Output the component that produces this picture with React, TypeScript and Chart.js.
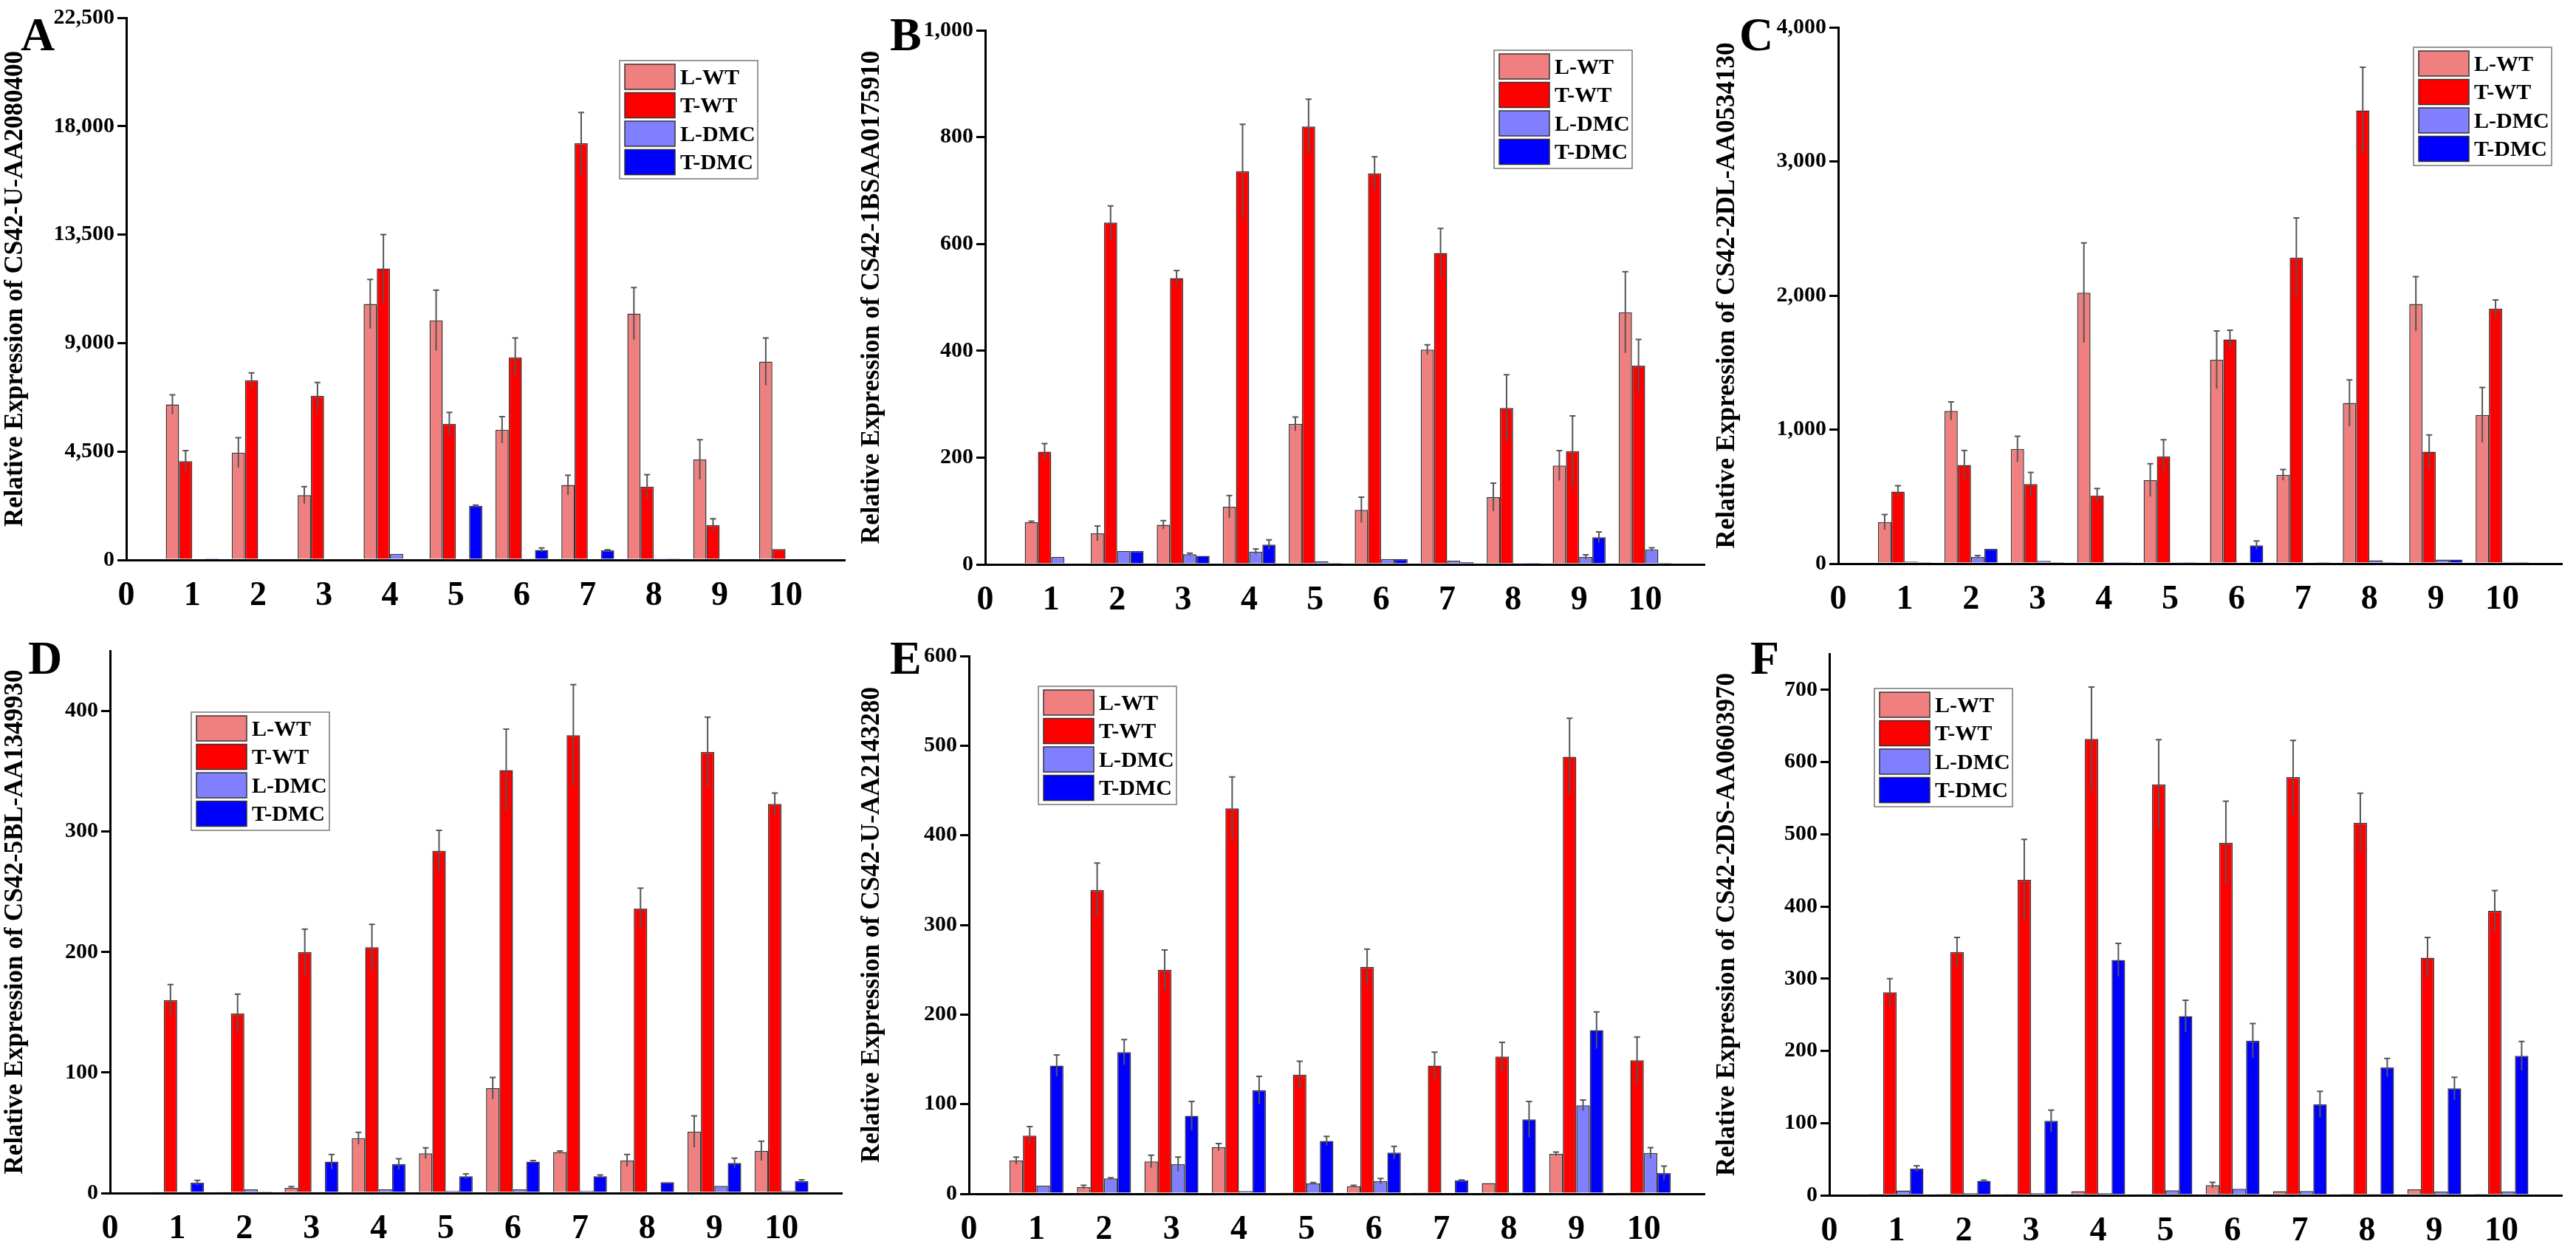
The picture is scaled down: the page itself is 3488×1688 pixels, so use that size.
import React, { useEffect, useRef } from "react";
import { Chart, registerables } from "chart.js";
Chart.register(...registerables);

const GROUPS = [1, 2, 3, 4, 5, 6, 7, 8, 9, 10];
const SERIES = ["L-WT", "T-WT", "L-DMC", "T-DMC"];
const COLORS = ["#F08080", "#FF0000", "#8080FF", "#0000FF"];

// Panel A
const A_LWT = [6450, 4455, 2690, 10620, 9940, 5400, 3110, 10220, 4170, 8230];
const A_LWT_E = [400, 615, 350, 1020, 1260, 550, 410, 1080, 820, 980];
const A_TWT = [4100, 7460, 6815, 12090, 5650, 8400, 17290, 3040, 1450, 450];
const A_TWT_E = [440, 300, 550, 1410, 470, 810, 1280, 500, 260, 0];
const A_LDMC = [0, 0, 0, 250, 0, 20, 0, 10, 0, 0];
const A_LDMC_E = [0, 0, 0, 0, 0, 0, 0, 0, 0, 0];
const A_TDMC = [20, 0, 0, 0, 2245, 415, 400, 10, 0, 0];
const A_TDMC_E = [0, 0, 0, 0, 30, 85, 20, 0, 0, 0];
// Panel B
const B_LWT = [79, 58, 74, 108, 263, 102, 402, 126, 185, 472];
const B_LWT_E = [2, 14, 8, 21, 13, 24, 9, 26, 28, 76];
const B_TWT = [211, 640, 536, 736, 820, 732, 583, 293, 212, 372];
const B_TWT_E = [15, 31, 14, 88, 51, 31, 46, 62, 66, 49];
const B_LDMC = [14, 25, 19, 24, 6, 10, 7, 1, 14, 28];
const B_LDMC_E = [0, 0, 2, 5, 0, 0, 0, 0, 4, 3];
const B_TDMC = [2, 25, 16, 37, 3, 10, 4, 1, 51, 3];
const B_TDMC_E = [0, 0, 0, 9, 0, 0, 0, 0, 10, 0];
// Panel C
const C_LWT = [310, 1139, 855, 2021, 623, 1520, 662, 1198, 1937, 1109];
const C_LWT_E = [57, 68, 96, 372, 122, 215, 41, 173, 203, 205];
const C_TWT = [537, 736, 593, 507, 799, 1672, 2283, 3380, 835, 1902];
const C_TWT_E = [44, 108, 87, 53, 125, 69, 295, 322, 125, 65];
const C_LDMC = [15, 50, 20, 5, 3, 10, 8, 25, 30, 12];
const C_LDMC_E = [0, 10, 0, 0, 0, 0, 0, 0, 0, 0];
const C_TDMC = [5, 110, 5, 3, 3, 137, 3, 3, 30, 12];
const C_TDMC_E = [0, 0, 0, 0, 0, 33, 0, 0, 0, 0];
// Panel D
const D_LWT = [1, 1, 4.3, 45.5, 33, 87, 34, 27, 51, 35];
const D_LWT_E = [0, 0, 1, 5, 4.5, 9, 1, 5, 13, 8];
const D_TWT = [160, 149, 200, 204, 284, 351, 380, 236, 366, 323];
const D_TWT_E = [13, 16, 19, 19, 17, 34, 42, 17, 29, 9];
const D_LDMC = [1, 3, 1, 3, 2, 3, 2, 1, 6, 2];
const D_LDMC_E = [0, 0, 0, 0, 0, 0, 0, 0, 0, 0];
const D_TDMC = [8.6, 0.5, 26, 24, 14, 26, 14, 9, 25, 10];
const D_TDMC_E = [2, 0, 6, 4.5, 2, 1, 1, 0, 4, 1];
// Panel E
const E_LWT = [37, 7.5, 36, 52, 0.5, 8.5, 0.5, 12, 44.6, 0.5];
const E_LWT_E = [4, 2, 7, 4, 0, 1, 0, 0, 2, 0];
const E_TWT = [65, 339, 250, 430, 133, 253, 143, 153, 487.6, 149];
const E_TWT_E = [10, 30, 22, 35, 15, 20, 15, 16, 43, 26];
const E_LDMC = [9, 17, 33, 3, 11.6, 14, 0, 0.5, 98.6, 45.5];
const E_LDMC_E = [0, 1, 8, 0, 1, 3, 0, 0, 6, 6];
const E_TDMC = [143, 158, 87, 115.5, 59, 46, 15, 83, 182.5, 23];
const E_TDMC_E = [12, 14, 16, 15.5, 5, 7, 0.5, 20, 20.5, 8];
// Panel F
const F_LWT = [2, 2, 0.5, 5.5, 0.5, 14, 5.5, 2, 8.3, 2];
const F_LWT_E = [0, 0, 0, 0, 0, 4, 0, 0, 0, 0];
const F_TWT = [281, 337, 437, 632, 569, 488, 579, 516, 329, 394];
const F_TWT_E = [19, 20, 56, 72, 62, 58, 51, 41, 28, 28];
const F_LDMC = [6.6, 3, 3, 3, 7, 9, 6, 2, 5, 5];
const F_LDMC_E = [0, 0, 0, 0, 0, 0, 0, 0, 0, 0];
const F_TDMC = [37, 20, 103, 326, 248, 214, 126, 177, 148, 193];
const F_TDMC_E = [4, 1, 15, 23, 22, 24, 18, 12.5, 15.5, 20];

const PANELS = [
  { letter: "A", title: "Relative Expression of CS42-U-AA2080400", vals: [A_LWT, A_TWT, A_LDMC, A_TDMC], errs: [A_LWT_E, A_TWT_E, A_LDMC_E, A_TDMC_E], max: 22500, step: 5000,
    left: 0, top: 0, area: [171, 1144, 24, 758], legend: [839, 82], lx: 28 },
  { letter: "B", title: "Relative Expression of CS42-1BSAA0175910", vals: [B_LWT, B_TWT, B_LDMC, B_TDMC], errs: [B_LWT_E, B_TWT_E, B_LDMC_E, B_TDMC_E], max: 1000, step: 200,
    left: 1160, top: 0, area: [174, 1148, 41, 764], legend: [863, 68], lx: 45 },
  { letter: "C", title: "Relative Expression of CS42-2DL-AA0534130", vals: [C_LWT, C_TWT, C_LDMC, C_TDMC], errs: [C_LWT_E, C_TWT_E, C_LDMC_E, C_TDMC_E], max: 4000, step: 1000,
    left: 2318, top: 0, area: [171, 1151, 37, 763], legend: [950, 64], lx: 37 },
  { letter: "D", title: "Relative Expression of CS42-5BL-AA1349930", vals: [D_LWT, D_TWT, D_LDMC, D_TDMC], errs: [D_LWT_E, D_TWT_E, D_LDMC_E, D_TDMC_E], max: 450, step: 100,
    left: 0, top: 844, area: [149, 1140, 37, 771], legend: [259, 120], lx: 38 },
  { letter: "E", title: "Relative Expression of CS42-U-AA2143280", vals: [E_LWT, E_TWT, E_LDMC, E_TDMC], errs: [E_LWT_E, E_TWT_E, E_LDMC_E, E_TDMC_E], max: 600, step: 100,
    left: 1160, top: 844, area: [152, 1148, 44, 772], legend: [246, 85], lx: 45 },
  { letter: "F", title: "Relative Expression of CS42-2DS-AA0603970", vals: [F_LWT, F_TWT, F_LDMC, F_TDMC], errs: [F_LWT_E, F_TWT_E, F_LDMC_E, F_TDMC_E], max: 750, step: 100,
    left: 2318, top: 844, area: [159, 1151, 41, 774], legend: [220, 88], lx: 52 },
];

const W = 1170;
const H = 844;
const FONT = "'Liberation Serif', 'Times New Roman', serif";

function Panel({ p }: { p: any }) {
  const ref = useRef<HTMLCanvasElement>(null);
  useEffect(() => {
    const [L, R, T, B] = p.area;
    const errPlugin = {
      id: "errbars",
      afterDatasetsDraw(chart: any) {
        const ctx = chart.ctx;
        const ys = chart.scales.y;
        ctx.save();
        ctx.strokeStyle = "#555";
        ctx.lineWidth = 2;
        chart.data.datasets.forEach((ds: any, di: number) => {
          const meta = chart.getDatasetMeta(di);
          meta.data.forEach((el: any, i: number) => {
            const e = p.errs[di][i];
            if (!e) return;
            const v = ds.data[i].y;
            const yh = ys.getPixelForValue(v + e);
            const yl = ys.getPixelForValue(Math.max(0, v - e));
            const cw = el.width * 0.45;
            ctx.beginPath();
            ctx.moveTo(el.x, yl);
            ctx.lineTo(el.x, yh);
            ctx.moveTo(el.x - cw / 2, yh);
            ctx.lineTo(el.x + cw / 2, yh);
            ctx.stroke();
          });
        });
        ctx.restore();
      },
      afterDraw(chart: any) {
        const ctx = chart.ctx;
        ctx.save();
        // letter
        ctx.fillStyle = "#000";
        ctx.font = `bold 64px ${FONT}`;
        ctx.textBaseline = "alphabetic";
        ctx.textAlign = "left";
        ctx.fillText(p.letter, p.lx, 68);
        // legend
        const [x0, y0] = p.legend;
        const bw = 187, bh = 160;
        ctx.fillStyle = "#fff";
        ctx.fillRect(x0, y0, bw, bh);
        ctx.strokeStyle = "#777";
        ctx.lineWidth = 1.5;
        ctx.strokeRect(x0, y0, bw, bh);
        ctx.font = `bold 30px ${FONT}`;
        ctx.textBaseline = "middle";
        SERIES.forEach((s, i) => {
          const ry = y0 + 5 + i * 38.5;
          ctx.fillStyle = COLORS[i];
          ctx.fillRect(x0 + 7, ry, 68, 34);
          ctx.strokeStyle = "#333";
          ctx.strokeRect(x0 + 7, ry, 68, 34);
          ctx.fillStyle = "#000";
          ctx.fillText(s, x0 + 82, ry + 19);
        });
        ctx.restore();
      },
    };
    const chart = new Chart(ref.current!, {
      type: "bar",
      data: {
        datasets: SERIES.map((s, di) => ({
          label: s,
          data: GROUPS.map((g, i) => ({ x: g, y: p.vals[di][i] })),
          backgroundColor: COLORS[di],
          borderColor: "#333",
          borderWidth: 1.5,
          categoryPercentage: 0.8,
          barPercentage: 1,
        })),
      },
      options: {
        animation: false,
        responsive: false,
        maintainAspectRatio: false,
        devicePixelRatio: 1,
        layout: { padding: { left: 0, top: T, right: W - R, bottom: 0 } },
        plugins: { legend: { display: false }, tooltip: { enabled: false } },
        scales: {
          x: {
            type: "linear",
            min: 0,
            max: 10.9,
            offset: false,
            grid: { display: false },
            border: { display: true, color: "#000", width: 3 },
            ticks: {
              stepSize: 1,
              includeBounds: false,
              padding: 14,
              color: "#000",
              font: { family: FONT, size: 46, weight: "bold" },
              callback: (v: any) => String(v),
            },
            afterFit: (s: any) => { s.height = H - B; },
          },
          y: {
            min: 0,
            max: p.max,
            grid: { display: true, drawOnChartArea: false, drawTicks: true, tickLength: 12, color: "#000", lineWidth: 3 },
            border: { display: true, color: "#000", width: 3 },
            ticks: {
              stepSize: p.step,
              includeBounds: false,
              padding: 4,
              color: "#000",
              font: { family: FONT, size: 30, weight: "bold" },
            },
            title: {
              display: true,
              text: p.title,
              color: "#000",
              font: { family: FONT, size: 35, weight: "bold" },
              padding: { top: 0, bottom: 0 },
            },
            afterFit: (s: any) => { s.width = L; },
          },
        },
      } as any,
      plugins: [errPlugin],
    });
    return () => chart.destroy();
  }, [p]);
  return (
    <div style={{ position: "absolute", left: p.left, top: p.top, width: W, height: H }}>
      <canvas ref={ref} width={W} height={H} style={{ width: W, height: H }} />
    </div>
  );
}

export default function App() {
  return (
    <div style={{ position: "absolute", left: 0, top: 0, width: 3488, height: 1688, background: "#fff", overflow: "hidden" }}>
      {PANELS.map((p) => (
        <Panel key={p.letter} p={p} />
      ))}
    </div>
  );
}
